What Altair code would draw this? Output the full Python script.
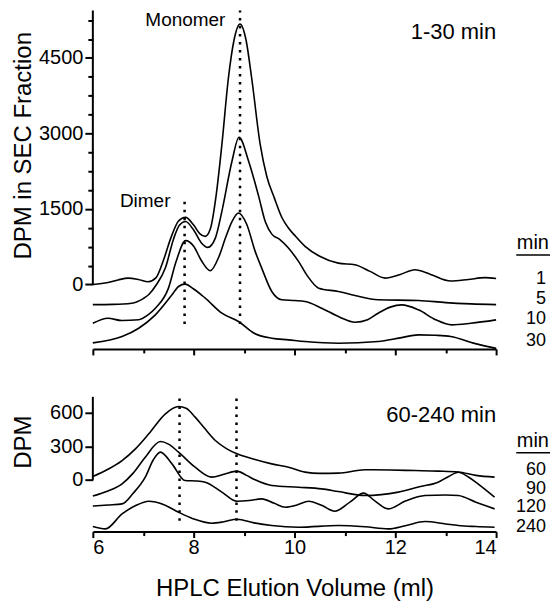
import altair as alt
import pandas as pd

FONT = "Liberation Sans"

# ---------------- top panel: 1-30 min (values include vertical stacking offset) -------------
x_1min = [6.0, 6.3, 6.5, 6.7, 6.9, 7.1, 7.25, 7.4, 7.55, 7.7, 7.84, 8.0, 8.12, 8.23, 8.33,
          8.45, 8.56, 8.69, 8.8, 8.92, 9.04, 9.15, 9.32, 9.45, 9.6, 9.75, 9.88, 10.0, 10.21,
          10.5, 10.87, 11.2, 11.5, 11.8, 12.1, 12.39, 12.7, 13.1, 13.45, 13.78, 14.0]
y_1min = [0, 40, 90, 125, 100, 55, 130, 480, 930, 1260, 1333, 1180, 1010, 955, 1100,
          1800, 2780, 4105, 4850, 5170, 4850, 4105, 2780, 2150, 1720, 1330, 1120, 980, 756,
          560, 424, 391, 260, 126, 200, 292, 200, 70, 100, 135, 120]

x_5min = [6.0, 6.4, 6.77, 7.0, 7.11, 7.25, 7.44, 7.6, 7.72, 7.84, 8.0, 8.15, 8.28, 8.43,
          8.56, 8.76, 8.9, 9.09, 9.29, 9.42, 9.55, 9.7, 9.88, 10.08, 10.25, 10.48, 10.87,
          11.2, 11.66, 12.46, 13.0, 13.5, 14.0]
y_5min = [-400, -395, -372, -280, -200, -20, 330, 900, 1180, 1250, 1080, 830, 736, 921,
          1453, 2448, 2925, 2448, 1750, 1250, 1000, 900, 723, 458, 180, -73, -139,
          -220, -305, -318, -360, -385, -400]

x_10min = [6.0, 6.3, 6.57, 6.91, 7.1, 7.24, 7.5, 7.65, 7.84, 8.0, 8.15, 8.33, 8.5, 8.63,
           8.76, 8.89, 9.05, 9.22, 9.35, 9.55, 9.75, 10.0, 10.21, 10.54, 10.9, 11.2, 11.45,
           11.66, 11.9, 12.13, 12.46, 12.8, 13.12, 13.5, 14.0]
y_10min = [-770, -670, -716, -700, -600, -472, -73, 450, 870, 760, 480, 273, 550, 921,
           1250, 1420, 1200, 657, 325, -139, -305, -320, -338, -471, -650, -750, -700,
           -571, -450, -405, -504, -700, -802, -770, -703]

x_30min = [6.0, 6.58, 6.91, 7.24, 7.57, 7.7, 7.83, 8.0, 8.23, 8.56, 8.89, 9.2, 9.55, 9.88,
           10.21, 10.87, 11.66, 12.1, 12.46, 12.8, 13.1, 13.57, 14.0]
y_30min = [-1160, -1035, -869, -603, -205, -40, 6, -90, -272, -571, -736, -970, -1068, -1100,
           -1134, -1168, -1134, -1060, -1001, -1010, -1035, -1170, -1270]

# ---------------- bottom panel: 60-240 min -------------
x_60min = [6.0, 6.3, 6.58, 6.85, 7.11, 7.44, 7.7, 7.85, 8.03, 8.2, 8.43, 8.65, 8.86, 9.2,
           9.55, 9.9, 10.21, 10.5, 10.87, 11.4, 11.9, 12.39, 12.85, 13.25, 13.6, 13.97]
y_60min = [30, 95, 173, 280, 412, 591, 656, 640, 561, 470, 352, 280, 233, 185,
           143, 110, 69, 58, 60, 90, 88, 83, 78, 70, 40, 24]

x_90min = [6.0, 6.3, 6.58, 6.8, 7.04, 7.34, 7.5, 7.7, 8.03, 8.36, 8.6, 8.86, 9.05, 9.22,
           9.55, 10.08, 10.54, 10.87, 11.4, 12.06, 12.5, 12.85, 13.05, 13.25, 13.45, 13.64, 13.97]
y_90min = [-145, -100, -36, 60, 203, 343, 320, 248, 113, 24, 50, 78, 40, 0,
           -51, -66, -81, -105, -140, -110, -60, -21, 28, 68, 25, -36, -155]

x_120min = [6.0, 6.3, 6.58, 6.8, 7.04, 7.2, 7.34, 7.57, 7.83, 8.05, 8.23, 8.56, 8.86, 9.1,
            9.35, 9.6, 9.82, 10.05, 10.28, 10.55, 10.8, 11.1, 11.37, 11.6, 11.86, 12.2,
            12.59, 13.0, 13.25, 13.6, 13.97]
y_120min = [-235, -225, -215, -120, 24, 180, 248, 143, -6, -10, -21, -110, -191, -185,
            -170, -210, -245, -225, -191, -230, -281, -200, -119, -190, -260, -190,
            -140, -135, -140, -200, -260]

x_240min = [6.0, 6.25, 6.58, 6.85, 7.11, 7.4, 7.7, 8.0, 8.36, 8.6, 8.86, 9.2, 9.55, 10.08,
            10.87, 11.4, 11.86, 12.2, 12.59, 13.0, 13.25, 13.6, 13.97]
y_240min = [-418, -439, -305, -230, -191, -220, -290, -350, -388, -375, -352, -385, -409, -424,
            -409, -420, -439, -410, -373, -395, -409, -418, -424]

# tick labels
x_ticks = [6, 7, 8, 9, 10, 11, 12, 13, 14]
top_major_ticks = [0, 1500, 3000, 4500]
top_minor_step = 375
bottom_ticks = [0, 300, 600]

# legend-like labels at right
top_series = ["1", "5", "10", "30"]
top_series_y = [107, -289, -686, -1122]
bottom_series = ["60", "90", "120", "240"]
bottom_series_y = [90, -80, -245, -420]

# reference lines (dimer, monomer)
top_dot_x = [7.82, 8.92]
top_dot_ytop = [1750, 5440]
bottom_dot_x = [7.72, 8.85]

TOP_DOMAIN = [-1280, 5440]
BOT_DOMAIN = [-463, 743]


def frame(xs, ys, name):
    return pd.DataFrame({"x": xs, "y": ys, "series": name})


top_df = pd.concat([frame(x_1min, y_1min, "1"), frame(x_5min, y_5min, "5"),
                    frame(x_10min, y_10min, "10"), frame(x_30min, y_30min, "30")])
bot_df = pd.concat([frame(x_60min, y_60min, "60"), frame(x_90min, y_90min, "90"),
                    frame(x_120min, y_120min, "120"), frame(x_240min, y_240min, "240")])

xscale = alt.Scale(domain=[6, 14], nice=False, zero=False)

common_axis = dict(grid=False, tickColor="black", tickWidth=2, labelColor="black",
                   labelFont=FONT, labelFontSize=20, titleFont=FONT, titleFontSize=24,
                   titleFontWeight="normal", titleColor="black")

x_tick_size = {"condition": {"test": "datum.value % 2 === 0", "value": 6}, "value": 4}

x_axis_top = alt.Axis(values=x_ticks, labels=False, title=None, domain=True,
                      domainColor="black", domainWidth=2, tickSize=x_tick_size, **common_axis)
x_axis_bot = alt.Axis(values=x_ticks, format="d", title="HPLC Elution Volume (ml)",
                      labelExpr="datum.value % 2 === 0 ? datum.label : ''",
                      domain=True, domainColor="black", domainWidth=2, tickSize=x_tick_size,
                      labelPadding=0, titlePadding=19, **common_axis)

top_vals = sorted(set(top_major_ticks + list(range(top_minor_step, TOP_DOMAIN[1], top_minor_step))))
y_axis_top = alt.Axis(values=top_vals, format="d",
                      labelExpr="datum.value % 1500 === 0 ? datum.label : ''",
                      tickSize={"condition": {"test": "datum.value % 1500 === 0", "value": 8},
                                "value": 5},
                      domain=False, labelPadding=2, title="DPM in SEC Fraction",
                      titleX=-57, titleY=135, **common_axis)
y_axis_bot = alt.Axis(values=bottom_ticks, format="d", tickSize=8, domain=False,
                      labelPadding=2, title="DPM", titleX=-57, titleY=45, **common_axis)


def panel(df, xaxis, yaxis, ydomain, height, dot_x, dot_top, dot_bottom,
          title_text, title_y, labels, labels_y, min_y, underline_y, peak_labels):
    yscale = alt.Scale(domain=ydomain, nice=False, zero=False)
    X = alt.X("x:Q", scale=xscale, axis=xaxis)
    Y = alt.Y("y:Q", scale=yscale, axis=yaxis)

    lines = alt.Chart(df).mark_line(color="black", strokeWidth=1.6,
                                    interpolate="monotone").encode(
        x=X, y=Y, detail="series:N")

    yline = alt.Chart(pd.DataFrame({"x": [6], "y": [0], "y2": [ydomain[1]]})).mark_rule(
        color="black", strokeWidth=2).encode(x=X, y=Y, y2="y2:Q")

    dots = alt.Chart(pd.DataFrame({"x": dot_x, "y": [dot_bottom] * len(dot_x),
                                   "y2": dot_top})).mark_rule(
        color="black", strokeWidth=2.5, strokeDash=[2.5, 5.5]).encode(x=X, y=Y, y2="y2:Q")

    ttl = alt.Chart(pd.DataFrame({"x": [14.0], "y": [title_y], "t": [title_text]})).mark_text(
        align="right", baseline="alphabetic", font=FONT, fontSize=22, color="black").encode(
        x=X, y=Y, text="t:N")

    lab = alt.Chart(pd.DataFrame({"x": [14.99] * len(labels), "y": labels_y, "t": labels})).mark_text(
        align="right", baseline="middle", font=FONT, fontSize=18, color="black").encode(
        x=X, y=Y, text="t:N")

    mn = alt.Chart(pd.DataFrame({"x": [14.73], "y": [min_y], "t": ["min"]})).mark_text(
        align="center", baseline="middle", font=FONT, fontSize=20, color="black").encode(
        x=X, y=Y, text="t:N")

    ul = alt.Chart(pd.DataFrame({"x": [14.4], "x2": [15.07], "y": [underline_y]})).mark_rule(
        color="black", strokeWidth=1.5).encode(x=X, x2="x2:Q", y=Y)

    layers = [lines, yline, dots, ttl, lab, mn, ul]
    if peak_labels is not None:
        pk = alt.Chart(pd.DataFrame(peak_labels)).mark_text(
            align="right", baseline="alphabetic", font=FONT, fontSize=19, color="black").encode(
            x=X, y=Y, text="t:N")
        layers.append(pk)
    return alt.layer(*layers).properties(width=404, height=height)


top = panel(top_df, x_axis_top, y_axis_top, TOP_DOMAIN, 339, top_dot_x, top_dot_ytop, -785,
            "1-30 min", 4865, top_series, top_series_y, 820, 583,
            {"x": [8.63, 7.54], "y": [5140, 1535], "t": ["Monomer", "Dimer"]})
bottom = panel(bot_df, x_axis_bot, y_axis_bot, BOT_DOMAIN, 135, bottom_dot_x, [743, 743], -367,
               "60-240 min", 518, bottom_series, bottom_series_y, 349, 242, None)

chart = alt.vconcat(top, bottom, spacing=39).properties(
    padding={"left": 3, "top": 0, "right": 0, "bottom": 0}, background="white"
).configure_view(strokeWidth=0)

chart.save("out.html", embed_options={"renderer": "svg", "actions": False})
